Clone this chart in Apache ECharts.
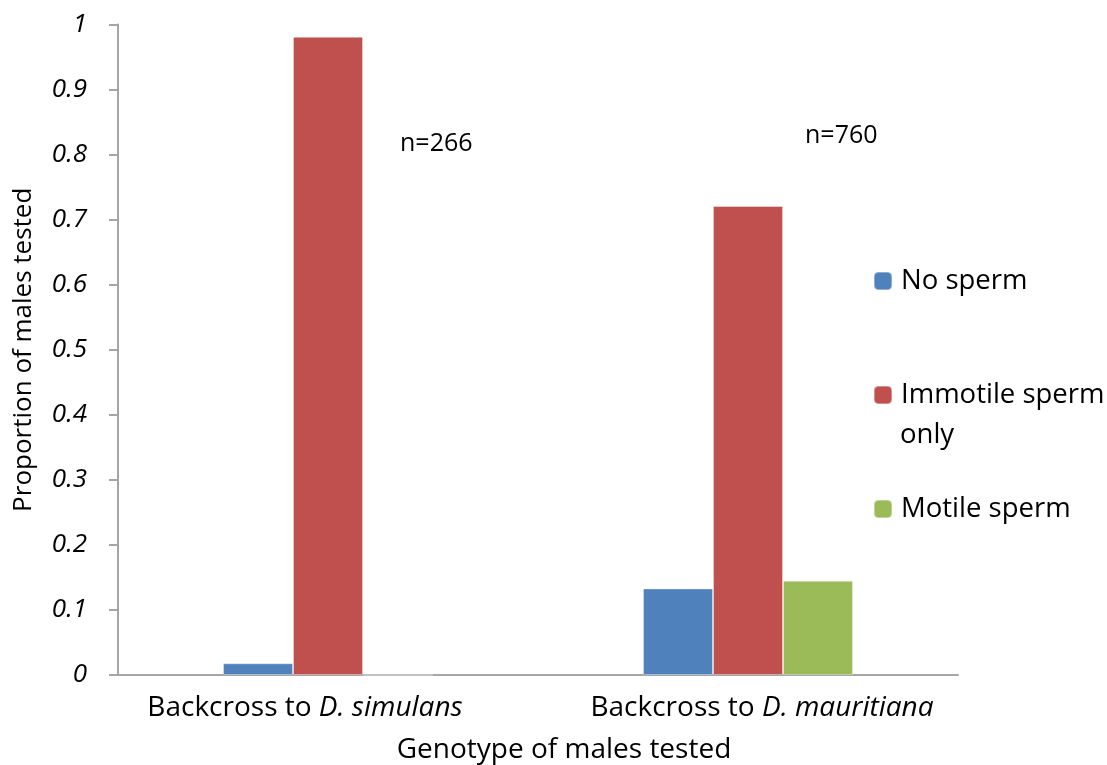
<!DOCTYPE html>
<html>
<head>
<meta charset="utf-8">
<title>Sperm phenotype by backcross</title>
<script src="https://cdn.jsdelivr.net/npm/echarts@6/dist/echarts.min.js"></script>
<style>
  html, body { margin: 0; padding: 0; background: #ffffff; }
  #chart { width: 1107px; height: 765px; }
</style>
</head>
<body>
<div id="chart"></div>
<script>
// Genotype groups on the x axis
const categories = ['Backcross to D. simulans', 'Backcross to D. mauritiana'];

// Proportion of males in each sperm class
const noSperm = [0.018, 0.133];
const immotileOnly = [0.981, 0.721];
const motileSperm = [0, 0.145];

// Sample sizes shown above each group
const sampleSizes = ['n=266', 'n=760'];

const FONT = '"Open Sans", sans-serif';
const AXIS_GRAY = '#a6a6a6';

const chart = echarts.init(document.getElementById('chart'));

// "Backcross to " in roman, the species name in italics
function catLabel(value, index) {
  const idx = value.indexOf(' D. ');
  const plain = value.slice(0, idx + 1);
  const species = value.slice(idx + 1);
  return index === 0
    ? '{n|' + plain + '}{i0|' + species + '}'
    : '{n1|' + plain + '}{i|' + species + '}';
}

const barStyle = color => ({
  color: color,
  borderColor: 'rgba(255,255,255,0.35)',
  borderWidth: 1
});

const legendText = { fontFamily: FONT, fontSize: 27.5, color: '#000', padding: [0, 0, 0, 4] };
const legendBase = { left: 873, padding: 0, itemWidth: 18, itemHeight: 18, itemGap: 10, textStyle: legendText, selectedMode: false };

const labelBase = { fontFamily: FONT, fontSize: 28, color: '#000' };

chart.setOption({
  animation: false,
  backgroundColor: '#ffffff',
  textStyle: { fontFamily: FONT, color: '#000' },
  grid: { left: 118, right: 149, top: 24.5, bottom: 90, containLabel: false, outerBoundsMode: 'none' },
  legend: [
    Object.assign({ data: ['No sperm'], top: 267 }, legendBase),
    Object.assign({ data: ['Immotile sperm'], top: 381 }, legendBase),
    Object.assign({ data: ['Motile sperm'], top: 495 }, legendBase)
  ],
  graphic: [
    // second line of the "Immotile sperm only" legend entry
    { type: 'text', left: 900, top: 421, style: { text: 'only', font: '27.5px ' + FONT, fill: '#000' } },
    // sample-size annotations
    { type: 'text', left: 400, top: 131, style: { text: sampleSizes[0], font: '25px ' + FONT, fill: '#000' } },
    { type: 'text', left: 805, top: 123, style: { text: sampleSizes[1], font: '25px ' + FONT, fill: '#000' } }
  ],
  xAxis: {
    type: 'category',
    data: categories,
    axisLine: { show: true, lineStyle: { color: AXIS_GRAY, width: 2 } },
    axisTick: { show: false },
    axisLabel: {
      margin: 19,
      formatter: catLabel,
      rich: {
        n: labelBase,
        n1: Object.assign({ padding: [0, 0, 0, 28] }, labelBase),
        i: Object.assign({ fontStyle: 'italic' }, labelBase),
        i0: Object.assign({ fontStyle: 'italic', padding: [0, 46, 0, 0] }, labelBase)
      }
    },
    name: 'Genotype of males tested',
    nameLocation: 'middle',
    nameGap: 61,
    nameTextStyle: { fontFamily: FONT, fontSize: 28, color: '#000', padding: [0, 0, 0, 52] }
  },
  yAxis: {
    type: 'value',
    min: 0,
    max: 1,
    interval: 0.1,
    splitLine: { show: false },
    axisLine: { show: true, lineStyle: { color: AXIS_GRAY, width: 2 } },
    axisTick: { show: true, inside: false, length: 9, lineStyle: { color: AXIS_GRAY, width: 2 } },
    axisLabel: {
      margin: 31,
      fontFamily: FONT,
      fontSize: 26,
      fontStyle: 'italic',
      color: '#000',
      formatter: v => String(Math.round(v * 10) / 10)
    },
    name: 'Proportion of males tested',
    nameLocation: 'middle',
    nameGap: 81,
    nameTextStyle: { fontFamily: FONT, fontSize: 26, color: '#000' }
  },
  series: [
    { name: 'No sperm', type: 'bar', data: noSperm, itemStyle: barStyle('#4f81bd'), barGap: '0%', barCategoryGap: '50%' },
    { name: 'Immotile sperm', type: 'bar', data: immotileOnly, itemStyle: barStyle('#c0504d'), barGap: '0%', barCategoryGap: '50%' },
    { name: 'Motile sperm', type: 'bar', data: motileSperm, itemStyle: barStyle('#9bbb59'), barGap: '0%', barCategoryGap: '50%' }
  ]
});
</script>
</body>
</html>
